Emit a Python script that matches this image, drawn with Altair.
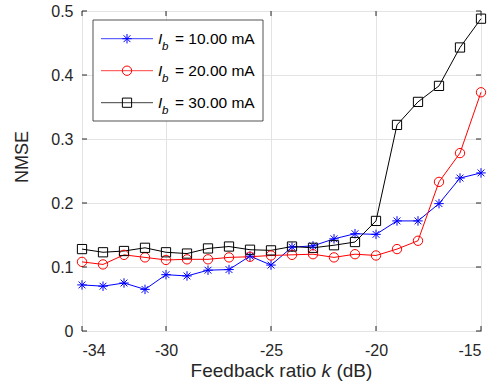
import altair as alt
import pandas as pd

# ---- data ----
k_db = [-34, -33, -32, -31, -30, -29, -28, -27, -26, -25,
        -24, -23, -22, -21, -20, -19, -18, -17, -16, -15]
nmse_10mA = [0.072, 0.070, 0.075, 0.065, 0.088, 0.086, 0.095, 0.096, 0.117, 0.103,
             0.131, 0.133, 0.144, 0.152, 0.151, 0.172, 0.172, 0.199, 0.239, 0.247]
nmse_20mA = [0.108, 0.104, 0.119, 0.115, 0.111, 0.112, 0.112, 0.115, 0.116, 0.118,
             0.119, 0.120, 0.115, 0.120, 0.118, 0.128, 0.141, 0.233, 0.278, 0.373]
nmse_30mA = [0.128, 0.123, 0.125, 0.130, 0.123, 0.121, 0.129, 0.132, 0.127, 0.126,
             0.132, 0.130, 0.134, 0.139, 0.172, 0.322, 0.358, 0.383, 0.443, 0.488]
currents = ["10.00", "20.00", "30.00"]
x_ticks = [-34, -30, -25, -20, -15]
y_ticks = [0, 0.1, 0.2, 0.3, 0.4, 0.5]

series_names = [f"{c} mA" for c in currents]
colors = ["#0000ff", "#ff0000", "#000000"]
star = "M-1,0L1,0M0,-1L0,1M-0.72,-0.72L0.72,0.72M-0.72,0.72L0.72,-0.72"
shapes = [star, "circle", "square"]
sizes = [90, 85, 48]

rows = []
for name, vals in zip(series_names, [nmse_10mA, nmse_20mA, nmse_30mA]):
    for kk, v in zip(k_db, vals):
        rows.append({"k": kk, "nmse": v, "series": name})
df = pd.DataFrame(rows)

W, H = 399, 320
FONT = "Liberation Sans"
AX = "#262626"

color_s = alt.Color("series:N", scale=alt.Scale(domain=series_names, range=colors), legend=None)
shape_s = alt.Shape("series:N", scale=alt.Scale(domain=series_names, range=shapes), legend=None)
size_s = alt.Size("series:N", scale=alt.Scale(domain=series_names, range=sizes), legend=None)

xscale = alt.Scale(domain=[-34, -15], nice=False, zero=False)
yscale = alt.Scale(domain=[0, 0.5], nice=False)

x_enc = alt.X("k:Q", scale=xscale, axis=alt.Axis(
    values=x_ticks, grid=True, gridColor="#e3e3e3", gridWidth=1, ticks=False, domain=False,
    labelFontSize=16, labelColor=AX, labelPadding=11, labelFont=FONT, title=None,
    labelExpr="datum.value + ''"))
y_enc = alt.Y("nmse:Q", scale=yscale, axis=alt.Axis(
    values=y_ticks, grid=True, gridColor="#e3e3e3", gridWidth=1, ticks=False, domain=False,
    labelFontSize=16, labelColor=AX, labelPadding=9, labelFont=FONT, title=None,
    labelExpr="datum.value == 0 ? '0' : format(datum.value, '.1f')"))

lines = alt.Chart(df).mark_line(strokeWidth=1).encode(
    x=x_enc, y=y_enc, color=color_s, order=alt.Order("k:Q"))
points = alt.Chart(df).mark_point(filled=False, strokeWidth=1, opacity=1).encode(
    x=alt.X("k:Q", scale=xscale), y=alt.Y("nmse:Q", scale=yscale),
    color=color_s, shape=shape_s, size=size_s)

# inward ticks on all four sides
xt = pd.DataFrame({"v": x_ticks})
yt = pd.DataFrame({"v": y_ticks})
tick_style = dict(color=AX, strokeWidth=1)
t_bottom = alt.Chart(xt).mark_rule(**tick_style).encode(
    x=alt.X("v:Q", scale=xscale), y=alt.value(H), y2=alt.value(H - 5))
t_top = alt.Chart(xt).mark_rule(**tick_style).encode(
    x=alt.X("v:Q", scale=xscale), y=alt.value(0), y2=alt.value(5))
t_left = alt.Chart(yt).mark_rule(**tick_style).encode(
    y=alt.Y("v:Q", scale=yscale), x=alt.value(0), x2=alt.value(5))
t_right = alt.Chart(yt).mark_rule(**tick_style).encode(
    y=alt.Y("v:Q", scale=yscale), x=alt.value(W - 5), x2=alt.value(W))

# axis titles
ytitle = alt.Chart(pd.DataFrame({"t": ["NMSE"]})).mark_text(
    angle=270, fontSize=18, font=FONT, color=AX, baseline="middle", align="center").encode(
    text="t:N", x=alt.value(-59), y=alt.value(146))
xt1 = alt.Chart(pd.DataFrame({"t": ["Feedback ratio"]})).mark_text(
    fontSize=19, font=FONT, color=AX, align="right", baseline="alphabetic").encode(
    text="t:N", x=alt.value(234.3), y=alt.value(366))
xt2 = alt.Chart(pd.DataFrame({"t": ["k"]})).mark_text(
    fontSize=19, font=FONT, fontStyle="italic", color=AX, align="left", baseline="alphabetic").encode(
    text="t:N", x=alt.value(239.6), y=alt.value(366))
xt3 = alt.Chart(pd.DataFrame({"t": ["(dB)"]})).mark_text(
    fontSize=19, font=FONT, color=AX, align="left", baseline="alphabetic").encode(
    text="t:N", x=alt.value(254.4), y=alt.value(366))

# custom legend
leg = pd.DataFrame({"series": series_names, "row": [0, 1, 2],
                    "label": [f"= {n}" for n in series_names]})
leg_base = alt.Chart(leg).transform_calculate(
    ly="27.7 + 32 * datum.row", ty="32.5 + 32 * datum.row", sy="39 + 32 * datum.row")
leg_box = alt.Chart(pd.DataFrame({"a": [0]})).mark_rect(
    fill="white", stroke=AX, strokeWidth=0.8).encode(
    x=alt.value(11), x2=alt.value(181), y=alt.value(9), y2=alt.value(110))
leg_lines = leg_base.mark_rule(strokeWidth=1, opacity=0.75).encode(
    x=alt.value(19), x2=alt.value(71), y=alt.Y("ly:Q", scale=None), color=color_s)
leg_pts = leg_base.mark_point(filled=False, strokeWidth=1, opacity=1).encode(
    x=alt.value(45), y=alt.Y("ly:Q", scale=None), color=color_s, shape=shape_s, size=size_s)
leg_I = leg_base.mark_text(fontSize=15.5, font=FONT, fontStyle="italic", color="black",
                           align="left", baseline="alphabetic").encode(
    text=alt.value("I"), x=alt.value(76), y=alt.Y("ty:Q", scale=None))
leg_b = leg_base.mark_text(fontSize=11.5, font=FONT, fontStyle="italic", color="black",
                           align="left", baseline="alphabetic").encode(
    text=alt.value("b"), x=alt.value(80), y=alt.Y("sy:Q", scale=None))
leg_t = leg_base.mark_text(fontSize=15.5, font=FONT, color="black",
                           align="left", baseline="alphabetic").encode(
    text="label:N", x=alt.value(93), y=alt.Y("ty:Q", scale=None))

chart = alt.layer(
    lines, points, t_bottom, t_top, t_left, t_right, ytitle, xt1, xt2, xt3,
    leg_box, leg_lines, leg_pts, leg_I, leg_b, leg_t
).properties(
    width=W, height=H,
    autosize=alt.AutoSizeParams(type="none"),
    padding={"left": 82, "top": 11, "right": 20, "bottom": 55},
).configure(font=FONT).configure_view(stroke=AX, strokeWidth=1)

chart.save("out.html", embed_options={"renderer": "svg", "actions": False})
